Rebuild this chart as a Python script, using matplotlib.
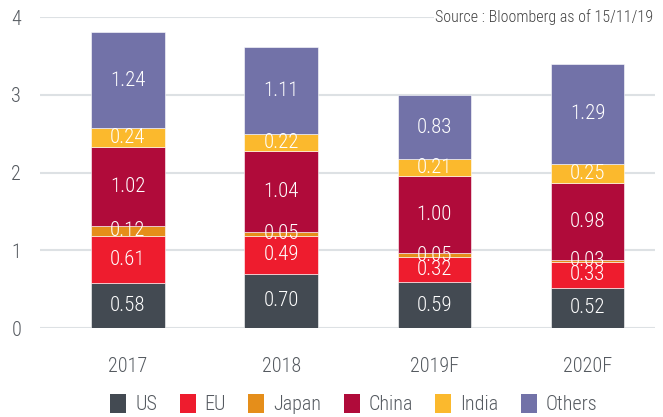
import numpy as np
import matplotlib.pyplot as plt
from matplotlib.patches import Patch

plt.rcParams['font.family'] = ['Roboto Condensed', 'DejaVu Sans']
plt.rcParams['font.weight'] = 'light'

years = ['2017', '2018', '2019F', '2020F']
regions = ['US', 'EU', 'Japan', 'China', 'India', 'Others']
us = [0.58, 0.70, 0.59, 0.52]
eu = [0.61, 0.49, 0.32, 0.33]
japan = [0.12, 0.05, 0.05, 0.03]
china = [1.02, 1.04, 1.00, 0.98]
india = [0.24, 0.22, 0.21, 0.25]
others = [1.24, 1.11, 0.83, 1.29]
colors = ['#434a52', '#ee1c2e', '#e58e1a', '#b00b3a', '#fbb92d', '#7272a8']

series = [us, eu, japan, china, india, others]

fig = plt.figure(figsize=(6.63, 4.17), dpi=100)
ax = fig.add_axes([0.0603, 0.2134, 0.9277, 0.7456])

x = np.arange(len(years))
bottom = np.zeros(len(years))
for vals, col in zip(series, colors):
    vals = np.array(vals)
    ax.bar(x, vals, 0.48, bottom=bottom, color=col, edgecolor='white', linewidth=0.4, zorder=3)
    for xi, b, v in zip(x, bottom, vals):
        ax.text(xi, b + v / 2, f'{v:.2f}', ha='center', va='center', color='white',
                fontsize=15, zorder=4)
    bottom += vals

ax.set_ylim(0, 4)
ax.set_xlim(-0.574, 3.44)
ax.set_yticks([0, 1, 2, 3, 4])
ax.set_xticks(x)
ax.set_xticklabels(years)
ax.tick_params(length=0, labelsize=14.5, colors='#555a60')
ax.tick_params(axis='x', pad=21)
ax.tick_params(axis='y', pad=17)
for lab in ax.get_yticklabels():
    lab.set_horizontalalignment('center')
ax.grid(axis='y', color='#dde1e4', linewidth=1.5, zorder=0)
for s in ax.spines.values():
    s.set_visible(False)

ax.text(3.43, 3.935, 'Source : Bloomberg as of 15/11/19', ha='right', va='baseline',
        fontsize=11.5, color='#444444', zorder=5,
        bbox=dict(facecolor='white', edgecolor='none', pad=1))

handles = [Patch(facecolor=c, label=r) for c, r in zip(colors, regions)]
fig.legend(handles=handles, loc='center', bbox_to_anchor=(0.534, 0.031), ncol=6,
           frameon=False, fontsize=14.5, handlelength=0.8, handleheight=1.1,
           handletextpad=0.45, columnspacing=1.1, labelcolor='#555a60')

fig.savefig('out.png', dpi=100)
